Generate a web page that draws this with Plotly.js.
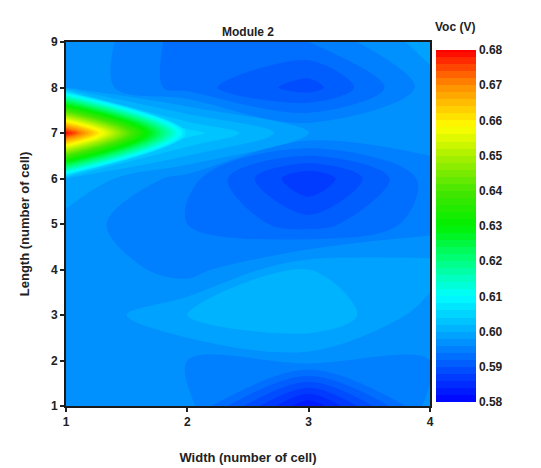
<!DOCTYPE html>
<html>
<head>
<meta charset="utf-8">
<script src="https://cdn.plot.ly/plotly-3.0.1.min.js"></script>
<style>html,body{margin:0;padding:0;background:#fff;}#chart{width:541px;height:468px;}</style>
</head>
<body>
<div id="chart"></div>
<script>
// Width (number of cell)
const widths = [1, 2, 3, 4];
// Length (number of cell)
const lengths = [1, 2, 3, 4, 5, 6, 7, 8, 9];
// Voc (V) per length row, columns = widths 1..4
const vocL1 = [0.597, 0.597, 0.582, 0.597];
const vocL2 = [0.598, 0.596, 0.597, 0.596];
const vocL3 = [0.596, 0.600, 0.602, 0.597];
const vocL4 = [0.598, 0.595, 0.600, 0.599];
const vocL5 = [0.597, 0.594, 0.591, 0.595];
const vocL6 = [0.600, 0.595, 0.586, 0.595];
const vocL7 = [0.680, 0.605, 0.598, 0.597];
const vocL8 = [0.598, 0.593, 0.589, 0.597];
const vocL9 = [0.598, 0.593, 0.594, 0.599];
const colorTicks = [0.58, 0.59, 0.60, 0.61, 0.62, 0.63, 0.64, 0.65, 0.66, 0.67, 0.68];

const z = [vocL1, vocL2, vocL3, vocL4, vocL5, vocL6, vocL7, vocL8, vocL9];
const font = {family: '"Liberation Sans", Arial, sans-serif', color: '#222', weight: 'bold'};

const trace = {
  type: 'contour',
  x: widths, y: lengths, z: z,
  zauto: false, zmin: 0.58, zmax: 0.68,
  autocontour: false,
  contours: {start: 0.58, end: 0.68, size: 0.002, coloring: 'fill', showlines: false},
  line: {width: 0},
  colorscale: [
    [0, 'rgb(0,0,255)'], [0.1, 'rgb(0,85,255)'], [0.2, 'rgb(0,170,255)'],
    [0.3, 'rgb(0,255,255)'], [0.4, 'rgb(0,255,128)'], [0.5, 'rgb(0,240,0)'],
    [0.6, 'rgb(70,230,0)'], [0.7, 'rgb(170,240,0)'], [0.78, 'rgb(255,255,0)'],
    [0.9, 'rgb(255,140,0)'], [1, 'rgb(255,0,0)']
  ],
  colorbar: {
    x: 1.016, xanchor: 'left', xpad: 0, ypad: 0,
    y: 0.4945, yanchor: 'middle', len: 0.967, lenmode: 'fraction',
    thickness: 40, outlinewidth: 0,
    tickvals: colorTicks, tickformat: '.2f', ticks: '',
    tickfont: Object.assign({size: 12}, font)
  },
  hoverinfo: 'x+y+z'
};

const layout = {
  width: 541, height: 468,
  margin: {l: 66, r: 111, t: 42, b: 62},
  paper_bgcolor: '#fff', plot_bgcolor: '#fff',
  title: {text: 'Module 2', xref: 'paper', x: 0.5, xanchor: 'center', yref: 'paper', y: 1.0, yanchor: 'bottom',
          pad: {b: 6}, font: Object.assign({size: 12}, font)},
  annotations: [{
    text: 'Voc (V)', xref: 'paper', yref: 'paper', x: 1.07, y: 1.0, xanchor: 'center', yanchor: 'bottom',
    yshift: 6, showarrow: false, font: Object.assign({size: 12}, font)
  }],
  xaxis: {
    range: [1, 4], tickvals: widths, ticks: 'outside', ticklen: 4, tickwidth: 2, tickcolor: '#222',
    showline: true, linewidth: 2, linecolor: '#1a1a1a', mirror: true, showgrid: false, zeroline: false,
    tickfont: Object.assign({size: 12}, font),
    title: {text: 'Width (number of cell)', font: Object.assign({size: 13}, font), standoff: 24}
  },
  yaxis: {
    range: [1, 9], tickvals: lengths, ticks: 'outside', ticklen: 4, tickwidth: 2, tickcolor: '#222',
    showline: true, linewidth: 2, linecolor: '#1a1a1a', mirror: true, showgrid: false, zeroline: false,
    tickfont: Object.assign({size: 12}, font),
    title: {text: 'Length (number of cell)', font: Object.assign({size: 13}, font), standoff: 18}
  }
};

Plotly.newPlot('chart', [trace], layout, {displayModeBar: false, staticPlot: true});
</script>
</body>
</html>
